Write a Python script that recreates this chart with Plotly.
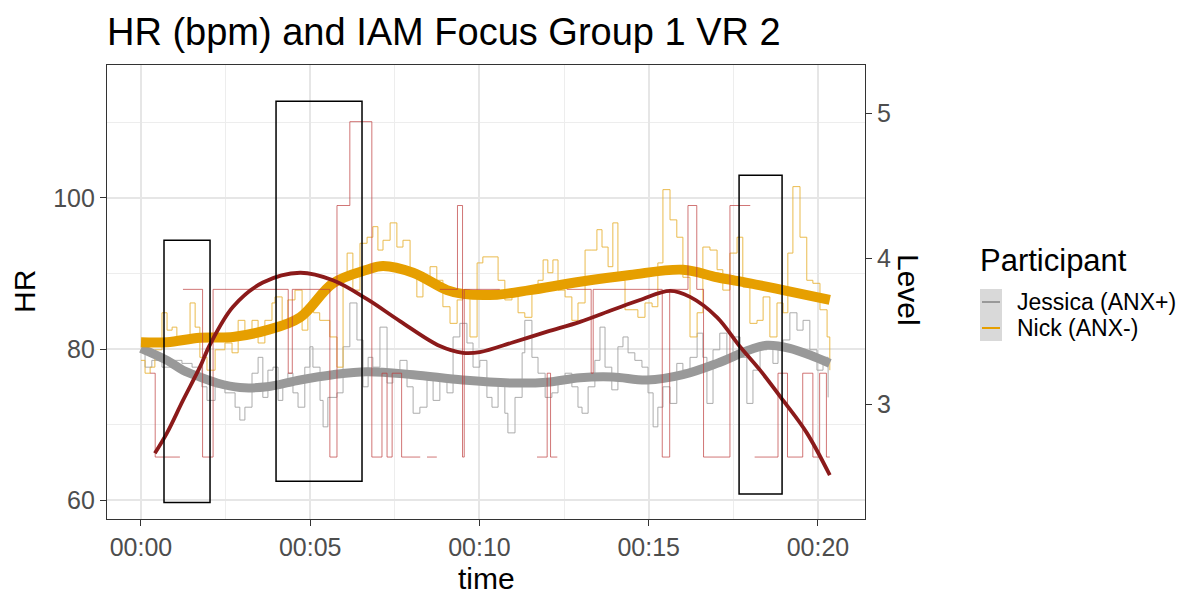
import plotly.graph_objects as go

# ---------------- data (time in minutes, HR in bpm) ----------------
nick_t = [0.0, 0.12, 0.27, 0.41, 0.62, 0.77, 0.92, 1.06, 1.21, 1.45, 1.60, 1.74, 1.95, 2.19, 2.48, 2.69, 2.87,
          3.07, 3.28, 3.46, 3.66, 3.87, 3.96, 4.17, 4.34, 4.55, 4.76, 4.93, 5.10, 5.28, 5.58, 5.79, 5.97, 6.09,
          6.26, 6.47, 6.68, 6.85, 7.00, 7.15, 7.36, 7.56, 7.74, 7.95, 8.15, 8.33, 8.54, 8.74, 8.92, 9.13, 9.34,
          9.51, 9.72, 9.93, 10.10, 10.31, 10.55, 10.75, 10.96, 11.14, 11.34, 11.55, 11.73, 11.88, 12.02, 12.17,
          12.32, 12.53, 12.73, 12.91, 13.12, 13.32, 13.47, 13.62, 13.80, 13.94, 14.09, 14.30, 14.51, 14.68,
          14.89, 15.10, 15.27, 15.42, 15.63, 15.83, 16.01, 16.22, 16.43, 16.60, 16.81, 17.02, 17.19, 17.40,
          17.61, 17.78, 17.99, 18.20, 18.38, 18.58, 18.79, 18.97, 19.11, 19.26, 19.47, 19.67, 19.85, 20.06,
          20.27, 20.35]
nick_hr = [78.5, 76.8, 77.6, 79.9, 84.8, 82.5, 82.9, 81.6, 81.2, 86.1, 82.9, 78.9, 77.2, 79.9, 80.8, 79.5, 83.8,
           81.6, 83.8, 80.8, 83.8, 86.1, 86.9, 83.8, 86.5, 87.8, 82.5, 85.6, 84.8, 83.8, 81.6, 77.6, 89.1, 92.7,
           87.8, 94.0, 94.8, 96.2, 93.1, 94.4, 96.7, 93.5, 94.4, 90.1, 86.9, 89.1, 90.9, 89.1, 85.6, 83.4, 86.5,
           87.8, 81.6, 91.4, 92.2, 92.2, 89.1, 86.5, 87.4, 84.8, 84.2, 87.8, 89.1, 91.8, 90.1, 91.8,
           87.8, 86.9, 83.8, 86.1, 93.1, 93.1, 95.8, 93.5, 90.9, 96.7, 89.1, 85.2, 85.2, 84.2,
           86.1, 85.6, 91.4, 101.1, 97.1, 94.8, 89.5, 81.6, 84.8, 93.5, 93.1, 90.5, 87.8, 92.7,
           94.8, 88.2, 83.4, 83.8, 86.9, 81.6, 86.1, 84.8, 92.7, 101.5, 94.8, 89.1, 88.7, 85.2,
           81.6, 77.2]

jess_t = [0.0, 0.12, 0.32, 0.62, 0.92, 1.21, 1.51, 1.80, 1.95, 2.19, 2.48, 2.78, 2.92, 3.07, 3.28, 3.46, 3.60,
          3.75, 3.90, 4.05, 4.19, 4.34, 4.49, 4.64, 4.84, 4.99, 5.08, 5.29, 5.38, 5.52, 5.79, 5.97, 6.17, 6.38,
          6.56, 6.71, 6.85, 7.06, 7.27, 7.44, 7.65, 7.86, 8.04, 8.24, 8.45, 8.63, 8.83, 9.04, 9.22, 9.42, 9.63,
          9.81, 10.01, 10.22, 10.37, 10.55, 10.75, 10.84, 11.05, 11.26, 11.34, 11.55, 11.73, 11.94, 12.14, 12.32,
          12.53, 12.73, 12.91, 13.03, 13.21, 13.41, 13.56, 13.71, 13.91, 14.09, 14.24, 14.39, 14.59, 14.80,
          14.98, 15.13, 15.27, 15.42, 15.63, 15.83, 16.01, 16.22, 16.43, 16.60, 16.72, 16.90, 17.10, 17.31,
          17.49, 17.70, 17.90, 18.08, 18.29, 18.49, 18.67, 18.82, 18.97, 19.17, 19.38, 19.56, 19.76, 19.97,
          20.15, 20.30]
jess_hr = [79.9, 77.6, 78.5, 77.6, 78.5, 78.1, 77.6, 75.0, 73.2, 75.0, 74.2, 72.3, 70.6, 72.3, 76.8, 78.9, 73.6,
           77.2, 77.6, 73.2, 75.9, 76.8, 74.2, 72.3, 77.6, 80.3, 77.6, 73.2, 69.7, 73.6, 74.2, 80.3, 86.1, 81.2,
           75.0, 78.9, 77.6, 82.9, 75.5, 76.8, 78.5, 75.0, 71.5, 72.3, 75.9, 73.2, 75.9, 74.2, 81.6, 83.4, 80.8,
           77.6, 78.5, 73.6, 72.3, 75.9, 71.5, 68.9, 73.6, 79.5, 83.8, 78.9, 76.8, 73.6, 74.2, 75.9,
           76.8, 75.0, 72.3, 71.5, 75.0, 78.5, 82.9, 77.6, 74.6, 80.3, 81.6, 79.5, 78.5, 77.6,
           74.2, 69.7, 72.3, 75.0, 72.8, 78.1, 77.2, 78.9, 82.1, 78.9, 72.8, 79.9, 82.1, 78.9,
           81.6, 78.9, 72.8, 77.2, 79.9, 80.8, 78.1, 79.9, 81.2, 84.8, 82.5, 83.8, 79.9, 77.2,
           78.9, 73.6]

# smoothed HR curves
nick_sm_t = [0.0, 0.77, 1.74, 2.72, 3.72, 4.70, 5.67, 6.68, 7.15, 8.04, 9.04, 9.51, 10.52, 11.49, 12.97, 14.45,
             16.01, 17.02, 17.99, 18.97, 20.35]
nick_sm_hr = [80.9, 80.9, 81.5, 81.6, 82.5, 84.2, 88.7, 90.5, 91.0, 90.1, 87.8, 87.3, 87.2, 87.8, 88.9, 89.8,
              90.5, 89.5, 88.7, 87.8, 86.5]
jess_sm_t = [0.0, 0.77, 1.24, 1.74, 2.25, 2.92, 3.72, 4.70, 5.67, 6.68, 8.04, 9.51, 10.99, 11.99, 12.97, 13.94,
             14.95, 16.01, 17.02, 17.99, 18.49, 19.17, 19.76, 20.35]
jess_sm_hr = [80.1, 78.5, 77.2, 76.3, 75.5, 74.9, 75.0, 75.9, 76.6, 77.0, 76.6, 75.9, 75.5, 75.6, 76.2, 76.3,
              75.9, 76.6, 78.1, 79.9, 80.5, 80.1, 79.2, 78.1]
iam_sm_t = [0.41, 0.77, 1.24, 1.74, 2.04, 2.72, 3.60, 4.70, 5.67, 6.68, 7.65, 8.83, 9.51, 10.01, 11.0,
            12.0, 12.97, 13.94, 14.74, 15.63, 16.22, 17.02, 17.70, 18.29, 18.97, 19.67, 20.35]
iam_sm_hr = [66.2, 68.9, 73.2, 77.6, 80.6, 85.6, 88.8, 90.1, 89.1, 86.6, 83.7, 80.4, 79.5, 79.6, 80.9,
             82.3, 83.6, 85.2, 86.5, 87.7, 86.9, 84.2, 80.3, 77.2, 73.2, 68.9, 63.3]

# IAM level steps (level code; None = gap)
iam_t = [0.27, 0.42, 1.15, 1.16, 1.24, 1.82, 2.13, 4.35, 4.47, 5.58, 5.79, 6.17, 6.82, 7.12, 7.27, 7.42, 7.70,
         8.25, 8.26, 8.45, 8.74, 8.75, 8.83, 9.35, 9.50, 9.55, 10.60, 10.61, 11.70, 12.00, 12.10, 12.30, 12.31,
         12.58, 13.30, 13.36, 15.40, 15.62, 16.16, 16.42, 16.62, 17.40, 18.00, 18.01, 18.13, 18.82, 19.10,
         19.55, 19.85, 20.05, 20.25, 20.35]
iam_level = [2, 1, 1, None, 3, 1, 3, 2, 3, 1, 4, 5, 1, 2, 1, 2, 1,
             1, None, 1, 1, None, 3, 4, 1, 3, 3, None, 1, 2, 1, 1, None,
             3, 2, 3, 1, 3, 4, 3, 1, 4, 4, None, 1, 2, 1,
             2, 1, 2, 1, 1]
level_base, level_step = 54.6, 11.1   # level code -> HR scale
iam_hr = [None if v is None else level_base + level_step * v for v in iam_level]

# highlighted windows
box_start = [0.68, 3.99, 17.67]
box_end = [2.04, 6.53, 18.94]
box_low = [59.7, 62.5, 60.8]
box_high = [94.4, 112.8, 103.0]

x_ticks = [0, 5, 10, 15, 20]
x_labels = ["00:00", "00:05", "00:10", "00:15", "00:20"]
hr_ticks = [60, 80, 100]
level_ticks = [3, 4, 5]
participants = ["Jessica (ANX+)", "Nick (ANX-)"]

# ---------------- styling ----------------
FONT = "Liberation Sans, Arial, sans-serif"
ORANGE = "#E69F00"
GRAY = "#999999"
DARKRED = "#8B1A1A"

W, H = 1193, 595
L, R, T, B = 107, 865, 65, 519

def px(x):
    return (x - L) / (R - L)

def py(y):
    return (B - y) / (B - T)

fig = go.Figure()
fig.add_trace(go.Scatter(x=jess_t, y=jess_hr, mode="lines", line=dict(color="#A3A3A3", width=0.9, shape="hv"),
                         showlegend=False, hoverinfo="skip"))
fig.add_trace(go.Scatter(x=nick_t, y=nick_hr, mode="lines", line=dict(color="#E8B33A", width=0.9, shape="hv"),
                         showlegend=False, hoverinfo="skip"))
fig.add_trace(go.Scatter(x=jess_sm_t, y=jess_sm_hr, mode="lines",
                         line=dict(color=GRAY, width=9, shape="spline", smoothing=1.0),
                         showlegend=False, hoverinfo="skip"))
fig.add_trace(go.Scatter(x=nick_sm_t, y=nick_sm_hr, mode="lines",
                         line=dict(color=ORANGE, width=10, shape="spline", smoothing=1.0),
                         showlegend=False, hoverinfo="skip"))
fig.add_trace(go.Scatter(x=iam_t, y=iam_hr, mode="lines", connectgaps=False,
                         line=dict(color="rgba(190,60,60,0.7)", width=1, shape="hv"),
                         showlegend=False, hoverinfo="skip"))
fig.add_trace(go.Scatter(x=iam_sm_t, y=iam_sm_hr, mode="lines",
                         line=dict(color=DARKRED, width=3.8, shape="spline", smoothing=1.0),
                         showlegend=False, hoverinfo="skip"))
# invisible trace to activate secondary axis
fig.add_trace(go.Scatter(x=[None], y=[None], yaxis="y2", showlegend=False, hoverinfo="skip"))

shapes = []
for x0, x1, y0, y1 in zip(box_start, box_end, box_low, box_high):
    shapes.append(dict(type="rect", xref="x", yref="y", x0=x0, x1=x1, y0=y0, y1=y1,
                       line=dict(color="black", width=1.5), fillcolor="rgba(0,0,0,0)", layer="above"))

# manual legend
key_x0, key_x1 = 980, 1002
key_rows = [(289, 315), (315, 341)]
key_cols = [GRAY, ORANGE]
annotations = []
for (ky0, ky1), col, name in zip(key_rows, key_cols, participants):
    shapes.append(dict(type="rect", xref="paper", yref="paper", x0=px(key_x0), x1=px(key_x1),
                       y0=py(ky1), y1=py(ky0), line=dict(width=0), fillcolor="#D9D9D9"))
    ym = (ky0 + ky1) / 2
    shapes.append(dict(type="line", xref="paper", yref="paper", x0=px(key_x0 + 2), x1=px(key_x1 - 2),
                       y0=py(ym), y1=py(ym), line=dict(color=col, width=2)))
    annotations.append(dict(text=name, xref="paper", yref="paper", x=px(1015), y=py(ym), xanchor="left",
                            yanchor="middle", showarrow=False, font=dict(family=FONT, size=23, color="black")))

annotations += [
    dict(text="Participant", xref="paper", yref="paper", x=px(978), y=py(260), xanchor="left", yanchor="middle",
         showarrow=False, font=dict(family=FONT, size=31, color="black")),
    dict(text="HR (bpm) and IAM Focus Group 1 VR 2", xref="paper", yref="paper", x=px(105), y=py(32),
         xanchor="left", yanchor="middle", showarrow=False, font=dict(family=FONT, size=38, color="black")),
    dict(text="HR", xref="paper", yref="paper", x=px(24), y=py(292), xanchor="center", yanchor="middle",
         textangle=-90, showarrow=False, font=dict(family=FONT, size=30, color="black")),
    dict(text="time", xref="paper", yref="paper", x=px(486), y=py(578), xanchor="center", yanchor="middle",
         showarrow=False, font=dict(family=FONT, size=30, color="black")),
    dict(text="Level", xref="paper", yref="paper", x=px(909), y=py(290), xanchor="center", yanchor="middle",
         textangle=90, showarrow=False, font=dict(family=FONT, size=30, color="black")),
]

axis_common = dict(showline=True, linecolor="#333333", linewidth=1.3, ticks="outside", ticklen=6,
                   tickcolor="#333333", tickwidth=1.3, zeroline=False,
                   tickfont=dict(family=FONT, size=25, color="#4D4D4D"))

fig.update_layout(
    width=W, height=H,
    margin=dict(l=L, r=W - R, t=T, b=H - B, autoexpand=False),
    paper_bgcolor="white", plot_bgcolor="white",
    showlegend=False, hovermode=False,
    xaxis=dict(range=[-1.004, 21.39], tickmode="array", tickvals=x_ticks, ticktext=x_labels, mirror=True,
               showgrid=True, gridcolor="#E6E6E6", gridwidth=1.6,
               minor=dict(tickvals=[2.5, 7.5, 12.5, 17.5], showgrid=True, gridcolor="#EDEDED", gridwidth=1.2,
                          ticks=""),
               **axis_common),
    yaxis=dict(range=[57.5, 117.6], tickmode="array", tickvals=hr_ticks, mirror=True,
               showgrid=True, gridcolor="#E6E6E6", gridwidth=1.6,
               minor=dict(tickvals=[70, 90, 110], showgrid=True, gridcolor="#EDEDED", gridwidth=1.2, ticks=""),
               **axis_common),
    yaxis2=dict(range=[2.21, 5.33], overlaying="y", side="right", tickmode="array", tickvals=level_ticks,
                showgrid=False, showline=False, ticks="outside", ticklen=6, tickcolor="#333333", tickwidth=1.3,
                zeroline=False, tickfont=dict(family=FONT, size=25, color="#4D4D4D")),
    shapes=shapes, annotations=annotations,
)

fig.write_html("out.html")
